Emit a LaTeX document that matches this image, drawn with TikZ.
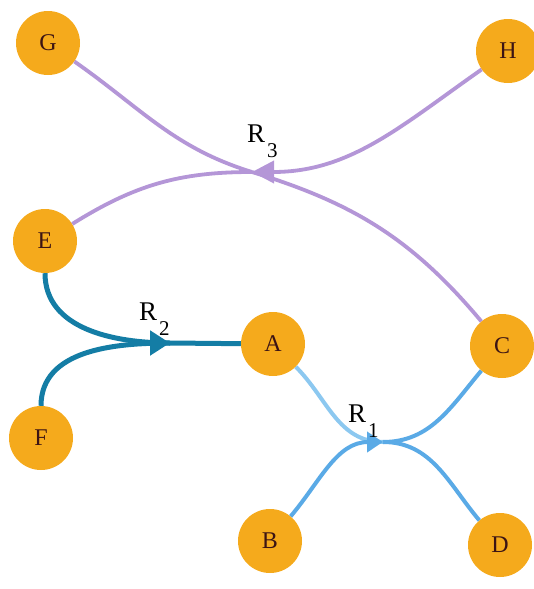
\documentclass[tikz,border=0pt]{standalone}
\usepackage{fontspec}
\setmainfont{Liberation Serif}
\usetikzlibrary{arrows.meta}
\definecolor{speciesfill}{HTML}{F5AA1C}
\definecolor{speciestext}{HTML}{3C1414}
\definecolor{rthree}{HTML}{B496D7}
\definecolor{rtwo}{HTML}{147DA5}
\definecolor{rone}{HTML}{5AAAE6}
\definecolor{ronelight}{HTML}{8CC8F0}

\begin{document}
\begin{tikzpicture}[x=1pt, y=1pt,
  species/.style={circle, fill=speciesfill, minimum size=64pt, inner sep=0pt,
    text=speciestext, font=\fontsize{24}{24}\selectfont},
  rlabel/.style={anchor=base west, inner sep=0pt, font=\fontsize{27}{27}\selectfont}]
\useasboundingbox (0,0) rectangle (533,-589);

\node[species] (G) at (48,-43) {G};
\node[species] (H) at (508,-51) {H};
\node[species] (E) at (45,-241) {E};
\node[species] (A) at (273,-344) {A};
\node[species] (C) at (502,-346) {C};
\node[species] (F) at (41,-438) {F};
\node[species] (B) at (270,-541) {B};
\node[species] (D) at (500,-545) {D};

\coordinate (r3) at (252,-172);
\coordinate (r2) at (170,-343);
\coordinate (r1) at (383,-442);

% reaction R3
\draw[rthree, line width=3.8pt] (E) to[out=32, in=180] (r3);
\draw[rthree, line width=3.8pt, -{Triangle[length=22pt, width=22pt]}] (H) to[out=215, in=0] (r3);
\draw[rthree, line width=3.8pt] (G) to[out=-35, in=163] (r3);
\draw[rthree, line width=3.8pt] (r3) to[out=-17, in=130] (C);
\node[rlabel] (l3) at (247,-142) {R\kern2pt\raisebox{-15pt}{\fontsize{21}{21}\selectfont 3}};

% reaction R2
\draw[rtwo, line width=5pt] (E) to[out=-90, in=180] (r2);
\draw[rtwo, line width=5pt] (F) to[out=90, in=180] (r2);
\draw[rtwo, line width=5pt] (r2) -- (A);
\draw[rtwo, line width=5pt, -{Triangle[length=20pt, width=24pt]}] (150,-343) -- (r2);
\node[rlabel] (l2) at (139,-320) {R\kern2pt\raisebox{-15pt}{\fontsize{21}{21}\selectfont 2}};

% reaction R1
\draw[ronelight, line width=4pt] (A) to[out=-45, in=180] (r1);
\draw[rone, line width=4pt, -{Triangle[length=16pt, width=20pt]}] (B) to[out=50, in=180] (r1);
\draw[rone, line width=4pt] (r1) to[out=0, in=-130] (C);
\draw[rone, line width=4pt] (r1) to[out=0, in=130] (D);
\node[rlabel] (l1) at (348,-422) {R\kern2pt\raisebox{-15pt}{\fontsize{21}{21}\selectfont 1}};
\end{tikzpicture}
\end{document}
